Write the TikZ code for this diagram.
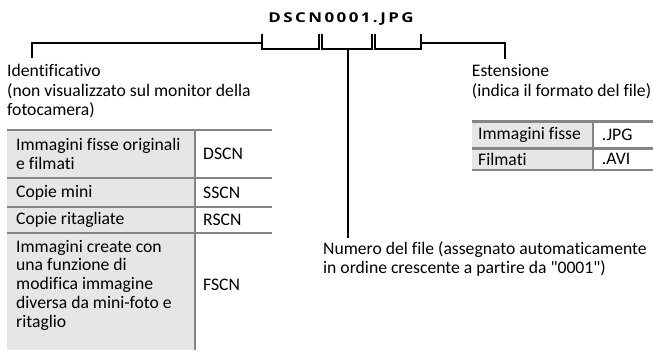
\documentclass[tikz,border=0pt]{standalone}
\usepackage{fontspec}
\setmainfont{Carlito}[Ligatures={TeXOff,NoCommon}]
\newfontfamily\titlefont{Open Sans}[LetterSpace=18, FakeStretch=1.25]
\definecolor{tline}{HTML}{858585}
\definecolor{tfill}{HTML}{E6E6E6}
\begin{document}
\begin{tikzpicture}[x=1bp,y=-1bp,
  lbl/.style={inner sep=0pt, anchor=north west, align=left, font=\fontsize{17.7}{19.5}\selectfont},
  cell/.style={inner sep=0pt, anchor=west, align=left, font=\fontsize{17.7}{18.8}\selectfont},
  brk/.style={line width=2bp, black},
  tl/.style={line width=2.5bp, draw=tline},
  cf/.style={fill=tfill, draw=none}
]
\useasboundingbox (0,0) rectangle (653,350);
% title
\node[inner sep=0pt, anchor=base, font=\titlefont\bfseries\fontsize{13.6}{14}\selectfont] (title) at (341,22) {DSCN0001.JPG};
% brackets
\coordinate (lb) at (32,58);
\coordinate (rb) at (505,59);
\coordinate (mb) at (348,238);
\draw[brk] (lb) |- (262,43);
\draw[brk] (262,34) -- (262,49) -- (319,49) -- (319,34);
\draw[brk] (322,34) -- (322,49) -- (372,49) -- (372,34);
\draw[brk] (375,34) -- (375,49) -- (421,49) -- (421,34);
\draw[brk] (421,43) -| (rb);
\draw[brk] (348,49) -- (mb);
% labels
\node[lbl] (ident) at (7,63) {\strut Identificativo\\(non visualizzato sul monitor della\\fotocamera)};
\node[lbl] (ext) at (471.7,63) {\strut Estensione\\(indica il formato del file)};
\node[lbl] (num) at (323,240.3) {\strut Numero del file (assegnato automaticamente\\in ordine crescente a partire da "0001")};
% left table
\fill[tfill] (7,130) rectangle (195,350);
\draw[tl] (7,130) -- (272,130);
\draw[tl] (7,178) -- (272,178);
\draw[tl] (7,207) -- (272,207);
\draw[tl] (7,233) -- (272,233);
\draw[tl] (195,130) -- (195,350);
\node[cell] (l1) at (16,154) {Immagini fisse originali\\e filmati};
\node[cell] (r1) at (203,154) {DSCN};
\node[cell] (l2) at (16,192.5) {Copie mini};
\node[cell] (r2) at (203,192.5) {SSCN};
\node[cell] (l3) at (16,220) {Copie ritagliate};
\node[cell] (r3) at (203,220) {RSCN};
\node[cell] (l4) at (16,285) {Immagini create con\\una funzione di\\modifica immagine\\diversa da mini-foto e\\ritaglio};
\node[cell] (r4) at (203,285) {FSCN};
% right table
\fill[tfill] (471.7,121.7) rectangle (593,170);
\draw[tl] (471.7,121.7) -- (653,121.7);
\draw[tl] (471.7,148.3) -- (653,148.3);
\draw[tl] (471.7,170) -- (653,170);
\draw[tl] (593,121.7) -- (593,170);
\node[cell] (e1) at (478,135) {Immagini fisse};
\node[cell] (f1) at (601.7,135) {.JPG};
\node[cell] (e2) at (478,159.2) {Filmati};
\node[cell] (f2) at (601.7,159.2) {.AVI};
\end{tikzpicture}
\end{document}
